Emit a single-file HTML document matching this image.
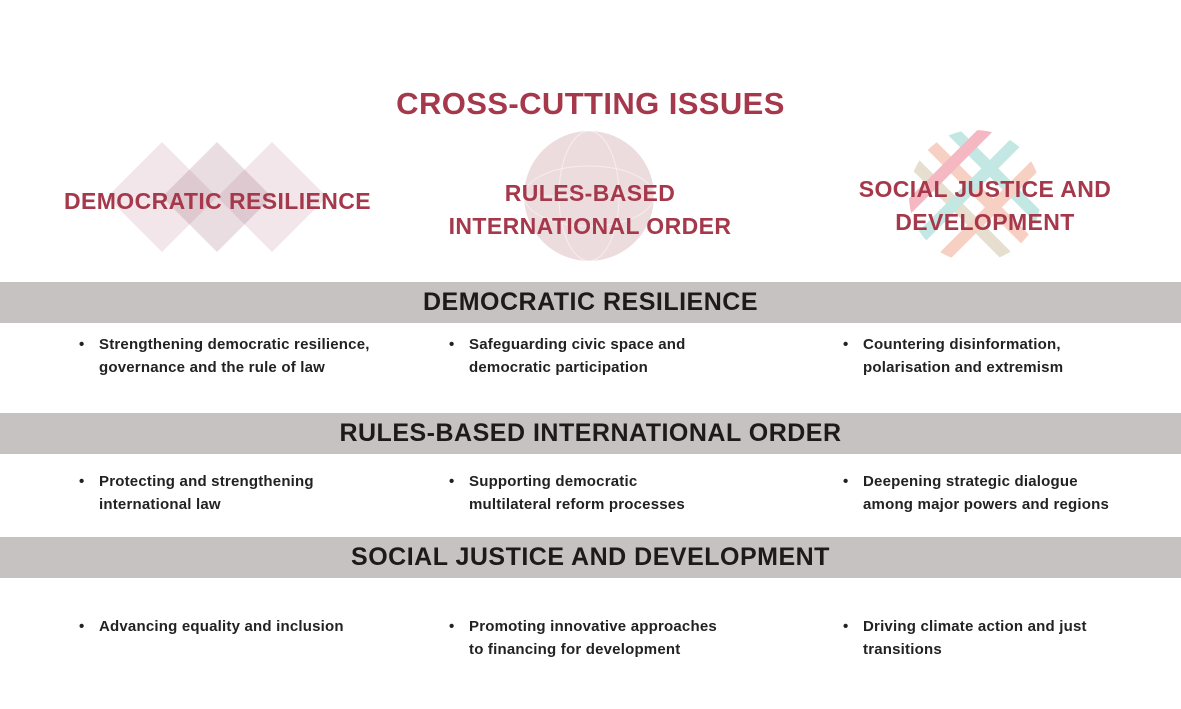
<!DOCTYPE html>
<html><head><meta charset="utf-8"><style>
body{margin:0;width:1181px;height:709px;background:#fff;position:relative;overflow:hidden;font-family:"Liberation Sans",sans-serif}
.a{position:absolute}
.t{color:#a5394b;font-weight:bold;text-align:center;letter-spacing:0.4px}
.bar{position:absolute;left:0;width:1181px;height:41px;background:#c6c2c2;color:#1e1a1a;font-weight:bold;font-size:25px;text-align:center;line-height:41px;letter-spacing:0.5px}
.b{position:absolute;font-size:15px;font-weight:bold;color:#222;line-height:23px;letter-spacing:0.2px}
.b:before{content:"•";position:absolute;left:-20px}
</style></head><body>
<div class="a t" style="left:0;width:1181px;top:86px;font-size:31px">CROSS-CUTTING ISSUES</div>
<svg class="a" style="left:0;top:0" width="1181" height="280">
<g fill="#b06b80" fill-opacity="0.17">
<polygon points="162,142 217,197 162,252 107,197"/>
<polygon points="217,142 272,197 217,252 162,197" fill="#9a6575" fill-opacity="0.22"/>
<polygon points="272,142 327,197 272,252 217,197"/>
</g>
<circle cx="589" cy="196" r="65" fill="#ecdcde"/>
<g stroke="#fff" stroke-opacity="0.5" fill="none"><ellipse cx="589" cy="196" rx="30" ry="65"/><line x1="524" y1="196" x2="654" y2="196"/><ellipse cx="589" cy="196" rx="65" ry="30"/></g>
<defs><clipPath id="c"><circle cx="975" cy="196" r="66"/></clipPath></defs>
<g clip-path="url(#c)" transform="rotate(45 975 196)" opacity="0.8">
<rect x="900" y="160" width="150" height="12" fill="#b5e3dd"/>
<rect x="905" y="185" width="140" height="12" fill="#f6c5b6"/>
<rect x="900" y="210" width="150" height="12" fill="#e0d6c2"/>
<rect x="930" y="120" width="12" height="150" fill="#f3a7b5"/>
<rect x="960" y="120" width="12" height="150" fill="#b5e3dd"/>
<rect x="990" y="120" width="12" height="150" fill="#f6c5b6"/>
</g>
</svg>
<div class="a t" style="left:40px;width:355px;top:188px;font-size:23px">DEMOCRATIC RESILIENCE</div>
<div class="a t" style="left:420px;width:340px;top:177px;font-size:23px;line-height:33px">RULES-BASED<br>INTERNATIONAL ORDER</div>
<div class="a t" style="left:825px;width:320px;top:173px;font-size:23px;line-height:33px">SOCIAL JUSTICE AND<br>DEVELOPMENT</div>
<div class="bar" style="top:282px">DEMOCRATIC RESILIENCE</div>
<div class="bar" style="top:413px">RULES-BASED INTERNATIONAL ORDER</div>
<div class="bar" style="top:537px">SOCIAL JUSTICE AND DEVELOPMENT</div>
<div class="b" style="left:99px;top:333px">Strengthening democratic resilience,<br>governance and the rule of law</div>
<div class="b" style="left:469px;top:333px">Safeguarding civic space and<br>democratic participation</div>
<div class="b" style="left:863px;top:333px">Countering disinformation,<br>polarisation and extremism</div>
<div class="b" style="left:99px;top:470px">Protecting and strengthening<br>international law</div>
<div class="b" style="left:469px;top:470px">Supporting democratic<br>multilateral reform processes</div>
<div class="b" style="left:863px;top:470px">Deepening strategic dialogue<br>among major powers and regions</div>
<div class="b" style="left:99px;top:615px">Advancing equality and inclusion</div>
<div class="b" style="left:469px;top:615px">Promoting innovative approaches<br>to financing for development</div>
<div class="b" style="left:863px;top:615px">Driving climate action and just<br>transitions</div>
</body></html>
